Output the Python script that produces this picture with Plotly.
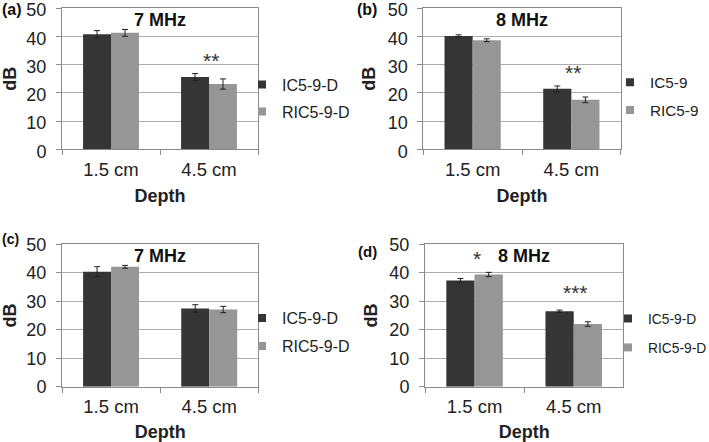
import plotly.graph_objects as go

# ---------------- data ----------------
depths = ["1.5 cm", "4.5 cm"]
y_ticks = [0, 10, 20, 30, 40, 50]

a_ic = [40.7, 25.6]
a_ic_err = [1.3, 1.2]
a_ric = [41.2, 23.1]
a_ric_err = [1.2, 1.8]

b_ic = [40.1, 21.4]
b_ic_err = [0.4, 1.0]
b_ric = [38.6, 17.5]
b_ric_err = [0.5, 1.0]

c_ic = [40.4, 27.5]
c_ic_err = [1.75, 1.3]
c_ric = [42.1, 27.1]
c_ric_err = [0.5, 1.1]

d_ic = [37.3, 26.5]
d_ic_err = [0.7, 0.4]
d_ric = [39.4, 22.0]
d_ric_err = [0.75, 0.8]

panel_labels = ["(a)", "(b)", "(c)", "(d)"]
freq_titles = ["7 MHz", "8 MHz", "7 MHz", "8 MHz"]
series_names = [("IC5-9-D", "RIC5-9-D"), ("IC5-9", "RIC5-9"),
                ("IC5-9-D", "RIC5-9-D"), ("IC5-9-D", "RIC5-9-D")]
# significance marks: (panel index, category, label, y value)
stars = [(0, "4.5 cm", "**", 31.5), (1, "4.5 cm", "**", 27.3),
         (3, "1.5 cm", "*", 44.9), (3, "4.5 cm", "***", 33.0)]

# ---------------- styling ----------------
W, H = 709, 442
FONT = "Liberation Sans, Arial, sans-serif"
DARK = "#353535"
LIGHT = "#969696"
GRID = "#adadad"
AXLINE = "#8a8a8a"

# plot-area boxes in pixels (left, right, top, bottom)
boxes = [(62, 258, 8, 149.3), (423.3, 620.7, 8, 149.3),
         (62, 258.3, 244.3, 386.7), (425, 623.3, 244.3, 386.7)]
label_shift = [2, 2, 0, 0]

data_sets = [(a_ic, a_ic_err, a_ric, a_ric_err),
             (b_ic, b_ic_err, b_ric, b_ric_err),
             (c_ic, c_ic_err, c_ric, c_ric_err),
             (d_ic, d_ic_err, d_ric, d_ric_err)]

legend_pos = [(242, 67.7), (610, 65.7), (242, 301.2), (608, 303)]
legend_font = [16, 15.3, 16, 13.8]
legend_gap = [3, 5, 4, 8]
label_pos = [(12, 9, 16), (367, 9, 16), (10, 239, 14), (367, 251, 15)]

fig = go.Figure()
layout = dict(
    width=W, height=H,
    margin=dict(l=0, r=0, t=0, b=0, autoexpand=False),
    paper_bgcolor="white", plot_bgcolor="white",
    barmode="group", bargap=0.43, bargroupgap=0,
    font=dict(family=FONT, color="#222222", size=17),
    annotations=[],
)

for i, (ic, ic_e, ric, ric_e) in enumerate(data_sets):
    n = "" if i == 0 else str(i + 1)
    xa, ya = "x" + n, "y" + n
    lg = "legend" + n
    l, r, t, b = boxes[i]
    common_err = dict(type="data", thickness=1, width=3, color="#222222")
    fig.add_trace(go.Bar(x=depths, y=ic, name=series_names[i][0],
                         marker=dict(color=DARK, line=dict(width=0)),
                         error_y=dict(array=ic_e, **common_err),
                         xaxis=xa, yaxis=ya, showlegend=False,
                         offsetgroup="ic"))
    fig.add_trace(go.Bar(x=depths, y=ric, name=series_names[i][1],
                         marker=dict(color=LIGHT, line=dict(width=0)),
                         error_y=dict(array=ric_e, **common_err),
                         xaxis=xa, yaxis=ya, showlegend=False,
                         offsetgroup="ric"))
    # legend entries (square markers, like the original)
    for k, (name, col) in enumerate(zip(series_names[i], (DARK, LIGHT))):
        fig.add_trace(go.Scatter(x=[None], y=[None], mode="markers", name=name,
                                 marker=dict(symbol="square", size=8, color=col),
                                 xaxis=xa, yaxis=ya, legend=lg, showlegend=True,
                                 legendgroup="g%d_%d" % (i, k)))
    lx, ly = legend_pos[i]
    layout[lg] = dict(x=lx / W, y=1 - ly / H, xanchor="left", yanchor="top",
                      bgcolor="rgba(0,0,0,0)", borderwidth=0,
                      font=dict(family=FONT, size=legend_font[i], color="#222222"),
                      traceorder="grouped", tracegroupgap=legend_gap[i],
                      itemsizing="trace")
    layout["xaxis" + n] = dict(
        domain=[l / W, r / W], anchor=ya, type="category", automargin=False,
        range=[-0.5, 1.5], showgrid=False, showline=True, linecolor=AXLINE,
        linewidth=1, mirror=True, ticks="outside", tickson="boundaries",
        ticklen=5, tickcolor=AXLINE, tickfont=dict(size=18.5, color="#222222"),
        ticklabelstandoff=3, ticklabeloverflow="allow",
        title=dict(text="<b>Depth</b>", font=dict(size=18), standoff=10),
        fixedrange=True)
    layout["yaxis" + n] = dict(
        domain=[1 - b / H, 1 - t / H], anchor=xa, range=[0, 50], automargin=False,
        tickvals=y_ticks, showgrid=True, gridcolor=GRID, gridwidth=1,
        showline=True, linecolor=AXLINE, linewidth=1, mirror=True,
        ticks="outside", ticklen=5, tickcolor=AXLINE,
        tickfont=dict(size=18, color="#222222"), ticklabelstandoff=6,
        ticklabelshift=label_shift[i],
        ticklabeloverflow="allow", zeroline=False,
        title=dict(text="<b>dB</b>", font=dict(size=18), standoff=7),
        fixedrange=True)
    # frequency title inside plot
    layout["annotations"].append(dict(
        text="<b>" + freq_titles[i] + "</b>", xref=xa + " domain", x=0.5,
        yref=ya, y=45.8, showarrow=False, font=dict(size=18, color="#111111"),
        xanchor="center", yanchor="middle"))
    # panel label
    px, py, ps = label_pos[i]
    layout["annotations"].append(dict(
        text="<b>" + panel_labels[i] + "</b>", xref="paper", yref="paper",
        x=px / W, y=1 - py / H, showarrow=False, xanchor="center",
        yanchor="middle", font=dict(size=ps, color="#111111")))

for (pi, cat, txt, yv) in stars:
    n = "" if pi == 0 else str(pi + 1)
    layout["annotations"].append(dict(
        text=txt, xref="x" + n, yref="y" + n, x=cat, y=yv, showarrow=False,
        xanchor="center", yanchor="middle", xshift=2,
        font=dict(size=21, color="#333333")))

fig.update_layout(**layout)
fig.write_html("out.html",
               config={"displayModeBar": False},
               post_script="document.body.style.margin='0px';"
                           "document.body.style.padding='0px';")
